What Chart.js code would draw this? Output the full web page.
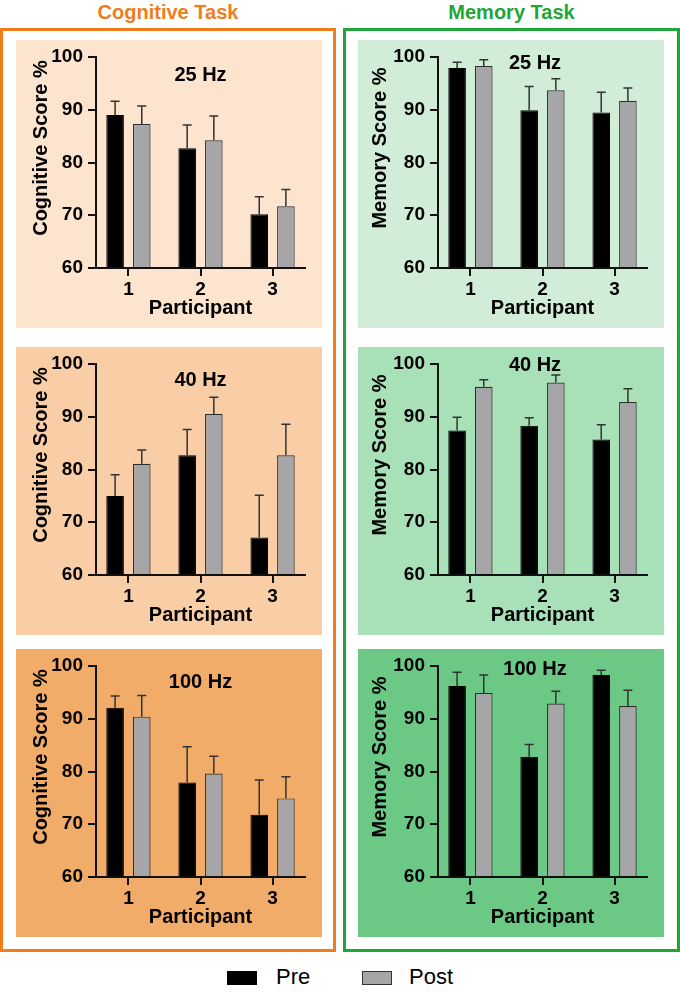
<!DOCTYPE html>
<html>
<head>
<meta charset="utf-8">
<title>Cognitive and memory task scores</title>
<script src="https://cdn.jsdelivr.net/npm/chart.js"></script>
<style>
  html, body { margin: 0; padding: 0; background: #fff; }
  body {
    width: 680px; height: 992px; position: relative; overflow: hidden;
    font-family: "Liberation Sans", Arial, Helvetica, sans-serif;
  }
  .head { position: absolute; top: 0; height: 24px; line-height: 24px; text-align: center; font-weight: bold; font-size: 20px; }
  .box { position: absolute; top: 28px; height: 924px; box-sizing: border-box; border: 3px solid; }
  .panel { position: absolute; width: 306px; height: 288px; }
  .panel canvas { display: block; }
  .swatch { position: absolute; top: 971px; width: 30px; height: 14px; box-sizing: border-box; }
  .leg-text { position: absolute; top: 966px; font-size: 22px; line-height: 22px; color: #000; }
</style>
</head>
<body>

<div class="head" style="left:0; width:336px; color:#ef7d1b;">Cognitive Task</div>
<div class="head" style="left:343px; width:337px; color:#1fa637;">Memory Task</div>

<div class="box" style="left:0; width:336px; border-color:#ef7d1b;"></div>
<div class="box" style="left:343px; width:337px; border-color:#1fa637;"></div>

<div class="panel" style="left:16px; top:40px; background:#fce4cf;"><canvas id="cog25" width="306" height="288"></canvas></div>
<div class="panel" style="left:16px; top:347px; background:#f9cea7;"><canvas id="cog40" width="306" height="288"></canvas></div>
<div class="panel" style="left:16px; top:649px; background:#f2ac69;"><canvas id="cog100" width="306" height="288"></canvas></div>
<div class="panel" style="left:358px; top:40px; background:#d1edd8;"><canvas id="mem25" width="306" height="288"></canvas></div>
<div class="panel" style="left:358px; top:347px; background:#a8e0b7;"><canvas id="mem40" width="306" height="288"></canvas></div>
<div class="panel" style="left:358px; top:649px; background:#6cc985;"><canvas id="mem100" width="306" height="288"></canvas></div>

<div class="swatch" style="left:227px; background:#000;"></div>
<div class="leg-text" style="left:276px;">Pre</div>
<div class="swatch" style="left:362px; background:#a6a6a9; border:1.5px solid #333;"></div>
<div class="leg-text" style="left:409px;">Post</div>

<script>
// participants on the x axis, score ticks on the y axis
const participants = ["1", "2", "3"];
const yTicks = [60, 70, 80, 90, 100];

// Cognitive task, mean score and SD (upper whisker) per participant
const cog25Pre = [89.0, 82.7, 70.2];
const cog25PreSD = [2.6, 4.4, 3.3];
const cog25Post = [87.3, 84.2, 71.7];
const cog25PostSD = [3.4, 4.6, 3.2];

const cog40Pre = [75.0, 82.7, 67.1];
const cog40PreSD = [4.0, 4.9, 8.0];
const cog40Post = [81.1, 90.5, 82.7];
const cog40PostSD = [2.6, 3.2, 5.9];

const cog100Pre = [92.1, 77.9, 71.8];
const cog100PreSD = [2.2, 6.8, 6.6];
const cog100Post = [90.4, 79.6, 74.9];
const cog100PostSD = [4.0, 3.3, 4.1];

// Memory task
const mem25Pre = [97.9, 89.9, 89.5];
const mem25PreSD = [1.1, 4.5, 3.8];
const mem25Post = [98.3, 93.7, 91.7];
const mem25PostSD = [1.2, 2.2, 2.4];

const mem40Pre = [87.4, 88.3, 85.7];
const mem40PreSD = [2.5, 1.5, 2.8];
const mem40Post = [95.7, 96.5, 92.8];
const mem40PostSD = [1.3, 1.4, 2.5];

const mem100Pre = [96.2, 82.8, 98.3];
const mem100PreSD = [2.6, 2.3, 0.9];
const mem100Post = [94.9, 92.9, 92.4];
const mem100PostSD = [3.4, 2.3, 3.0];

const FONT = "'Liberation Sans', Arial, Helvetica, sans-serif";
const AXIS = "#111";
const GREY = "#a6a6a9";
const tickFont = { family: FONT, size: 19, weight: "bold", lineHeight: 1.2 };
const titleFont = { family: FONT, size: 20, weight: "bold", lineHeight: 1.2 };

// upper-only SD whiskers with a small cap
const errorBars = {
  id: "errorBars",
  afterDatasetsDraw(chart) {
    const { ctx } = chart;
    const y = chart.scales.y;
    chart.data.datasets.forEach((ds, i) => {
      chart.getDatasetMeta(i).data.forEach((bar, j) => {
        const top = y.getPixelForValue(ds.data[j].y + ds.sd[j]);
        ctx.save();
        ctx.strokeStyle = "#333";
        ctx.lineWidth = 1.5;
        ctx.beginPath();
        ctx.moveTo(bar.x, bar.y);
        ctx.lineTo(bar.x, top);
        ctx.moveTo(bar.x - 4.5, top);
        ctx.lineTo(bar.x + 4.5, top);
        ctx.stroke();
        ctx.restore();
      });
    });
  }
};

// frequency label inside the plot and the rotated y title
const panelText = {
  id: "panelText",
  afterDraw(chart, args, opts) {
    const { ctx, chartArea } = chart;
    ctx.save();
    ctx.fillStyle = "#000";
    ctx.textAlign = "center";
    ctx.textBaseline = "middle";
    ctx.font = "bold 20px " + FONT;
    ctx.fillText(opts.hz, (chartArea.left + chartArea.right) / 2 + opts.hzDx, chartArea.top + opts.hzDy);
    ctx.translate(opts.yTitleX, (chartArea.top + chartArea.bottom) / 2 + opts.yTitleDy);
    ctx.rotate(-Math.PI / 2);
    ctx.fillText(opts.yTitle, 0, 0);
    ctx.restore();
  }
};

function points(values) {
  return values.map((v, i) => ({ x: i + 1, y: v }));
}

function makePanel(id, pre, preSD, post, postSD, text) {
  const axisGrid = { offset: false, drawOnChartArea: false, drawTicks: true, tickLength: 8, lineWidth: 2, color: AXIS };
  const axisBorder = { display: true, color: AXIS, width: 2 };
  new Chart(document.getElementById(id), {
    type: "bar",
    data: {
      datasets: [
        { label: "Pre", data: points(pre), sd: preSD, backgroundColor: "#000", borderColor: "#000",
          borderWidth: 1, base: yTicks[0], categoryPercentage: 0.74, barPercentage: 0.66 },
        { label: "Post", data: points(post), sd: postSD, backgroundColor: GREY, borderColor: "#2e2e2e",
          borderWidth: 1.2, base: yTicks[0], categoryPercentage: 0.74, barPercentage: 0.66 }
      ]
    },
    options: {
      responsive: false,
      animation: false,
      events: [],
      layout: { padding: { top: 17, right: 17, bottom: 0, left: 0 } },
      plugins: {
        legend: { display: false },
        tooltip: { enabled: false },
        panelText: text
      },
      scales: {
        x: {
          type: "linear", min: 0.55, max: 3.45, offset: false,
          grid: axisGrid, border: axisBorder,
          ticks: { stepSize: 1, includeBounds: false, font: tickFont, color: "#000", padding: 2, maxRotation: 0,
                   callback: v => participants[v - 1] },
          title: { display: true, text: "Participant", font: titleFont, color: "#000", padding: { top: 0, bottom: 8 } },
          afterFit: s => { s.height = 60; }
        },
        y: {
          min: yTicks[0], max: yTicks[yTicks.length - 1], beginAtZero: false,
          grid: axisGrid, border: axisBorder,
          ticks: { font: tickFont, color: "#000", padding: 5 },
          afterBuildTicks: s => { s.ticks = yTicks.map(v => ({ value: v })); },
          afterFit: s => { s.width = 80; }
        }
      }
    },
    plugins: [errorBars, panelText]
  });
}

const cogText = { yTitle: "Cognitive Score %", yTitleX: 25, yTitleDy: -14.5, hzDx: 0 };
const memText = { yTitle: "Memory Score %", yTitleX: 22.5, yTitleDy: -14.5, hzDx: -7.5 };

makePanel("cog25", cog25Pre, cog25PreSD, cog25Post, cog25PostSD, { ...cogText, hz: "25 Hz", hzDy: 18.5 });
makePanel("cog40", cog40Pre, cog40PreSD, cog40Post, cog40PostSD, { ...cogText, hz: "40 Hz", hzDy: 16 });
makePanel("cog100", cog100Pre, cog100PreSD, cog100Post, cog100PostSD, { ...cogText, hz: "100 Hz", hzDy: 16 });
makePanel("mem25", mem25Pre, mem25PreSD, mem25Post, mem25PostSD, { ...memText, hz: "25 Hz", hzDy: 6.5 });
makePanel("mem40", mem40Pre, mem40PreSD, mem40Post, mem40PostSD, { ...memText, hz: "40 Hz", hzDy: 1 });
makePanel("mem100", mem100Pre, mem100PreSD, mem100Post, mem100PostSD, { ...memText, hz: "100 Hz", hzDy: 3.5 });
</script>
</body>
</html>
